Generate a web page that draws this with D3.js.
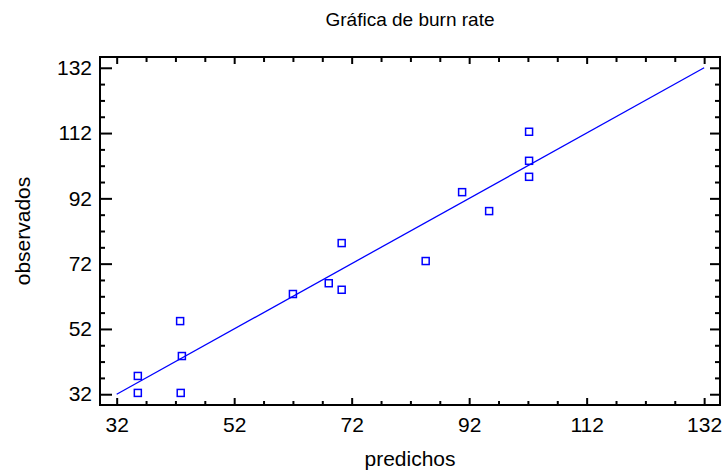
<!DOCTYPE html>
<html>
<head>
<meta charset="utf-8">
<script src="https://cdn.jsdelivr.net/npm/d3@7"></script>
<style>
  body { margin: 0; background: #fff; }
  svg text { font-family: Arial, "Liberation Sans", sans-serif; fill: #000; }
</style>
</head>
<body>
<div id="chart"></div>
<script>
// predicted vs observed burn rate
var predichos  = [35.6, 35.6, 42.9, 43.1, 42.8, 62.0, 68.1, 70.3, 70.3, 84.6, 90.8, 95.4, 102.2, 102.2, 102.2]
var observados = [37.6, 32.4, 32.4, 43.7, 54.4, 62.7, 66.0, 78.3, 64.0, 72.8, 93.9, 88.1, 112.4, 103.5, 98.6]
// fitted line y = x over the range
var fitLine = [[32, 32], [132, 132]]
var majorTicks = [32, 52, 72, 92, 112, 132]
var minorTicks = [37, 42, 47, 57, 62, 67, 77, 82, 87, 97, 102, 107, 117, 122, 127]

var margin = { top: 57, right: 4, bottom: 68, left: 100 }
const width = 724 - margin.left - margin.right
const height = 473 - margin.top - margin.bottom

var x = d3.scaleLinear().domain([29.16, 134.7]).range([0, width])
var y = d3.scaleLinear().domain([28.7, 135.3]).range([height, 0])

const root = d3.select("#chart").append("svg")
    .attr("width", 724)
    .attr("height", 473)
const svg = root.append("g")
    .attr("transform", "translate(" + margin.left + "," + margin.top + ")")

// title and axis titles
root.append("text")
    .attr("x", margin.left + width / 2)
    .attr("y", 26)
    .attr("text-anchor", "middle")
    .style("font-size", "19px")
    .text("Gráfica de burn rate")
root.append("text")
    .attr("x", margin.left + width / 2)
    .attr("y", 466)
    .attr("text-anchor", "middle")
    .style("font-size", "21px")
    .text("predichos")
root.append("text")
    .attr("transform", "translate(30," + (margin.top + height / 2) + ") rotate(-90)")
    .attr("text-anchor", "middle")
    .style("font-size", "21px")
    .text("observados")

// axes: ticks point inward
function styleAxis(g) {
    g.select(".domain").remove()
    g.selectAll("line").attr("stroke", "#000").attr("stroke-width", 2)
    g.selectAll("text").style("font-size", "21px")
}
svg.append("g")
    .attr("transform", "translate(0," + height + ")")
    .call(d3.axisBottom(x).tickValues(majorTicks).tickSizeInner(-7).tickSizeOuter(0).tickPadding(12))
    .call(styleAxis)
svg.append("g")
    .attr("transform", "translate(0," + height + ")")
    .call(d3.axisBottom(x).tickValues(minorTicks).tickSizeInner(-4).tickSizeOuter(0).tickFormat(""))
    .call(styleAxis)
svg.append("g")
    .call(d3.axisTop(x).tickValues(majorTicks).tickSizeInner(-7).tickSizeOuter(0).tickFormat(""))
    .call(styleAxis)
svg.append("g")
    .call(d3.axisTop(x).tickValues(minorTicks).tickSizeInner(-5).tickSizeOuter(0).tickFormat(""))
    .call(styleAxis)
svg.append("g")
    .call(d3.axisLeft(y).tickValues(majorTicks).tickSizeInner(-12).tickSizeOuter(0).tickPadding(8))
    .call(styleAxis)
svg.append("g")
    .call(d3.axisLeft(y).tickValues(minorTicks).tickSizeInner(-5).tickSizeOuter(0).tickFormat(""))
    .call(styleAxis)
svg.append("g")
    .attr("transform", "translate(" + width + ",0)")
    .call(d3.axisRight(y).tickValues(majorTicks).tickSizeInner(-10).tickSizeOuter(0).tickFormat(""))
    .call(styleAxis)
svg.append("g")
    .attr("transform", "translate(" + width + ",0)")
    .call(d3.axisRight(y).tickValues(minorTicks).tickSizeInner(-5).tickSizeOuter(0).tickFormat(""))
    .call(styleAxis)

// frame
svg.append("rect")
    .attr("width", width)
    .attr("height", height)
    .attr("fill", "none")
    .attr("stroke", "#000")
    .attr("stroke-width", 2)

// fitted line
svg.append("path")
    .datum(fitLine)
    .attr("fill", "none")
    .attr("stroke", "#0000ff")
    .attr("stroke-width", 1.3)
    .attr("d", d3.line().x(d => x(d[0])).y(d => y(d[1])))

// observations
const pts = d3.zip(predichos, observados)
svg.append("g")
    .selectAll("rect")
    .data(pts)
    .join("rect")
    .attr("x", d => x(d[0]) - 3.5)
    .attr("y", d => y(d[1]) - 3.5)
    .attr("width", 7)
    .attr("height", 7)
    .attr("fill", "none")
    .attr("stroke", "#0000ff")
    .attr("stroke-width", 1.5)
</script>
</body>
</html>
